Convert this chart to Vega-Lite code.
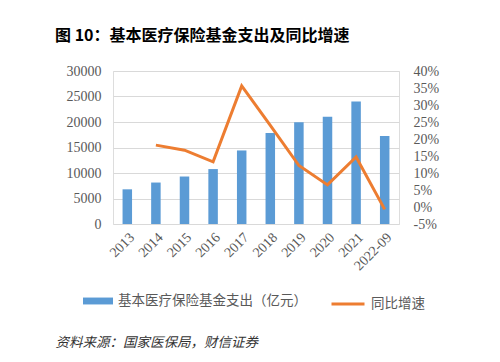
{
  "$schema": "https://vega.github.io/schema/vega-lite/v6.json",
  "width": 286,
  "height": 153,
  "autosize": {"type": "none"},
  "padding": {"left": 113, "top": 71, "right": 101, "bottom": 138},
  "background": "white",
  "title": {
    "text": "图 10：基本医疗保险基金支出及同比增速",
    "anchor": "start",
    "frame": "group",
    "dx": -58,
    "offset": 20,
    "font": "Noto Sans CJK SC",
    "fontSize": 16,
    "fontWeight": "bold",
    "color": "#000000"
  },
  "data": {
    "values": [
      {"year": "2013", "expense": 6800, "growth": null},
      {"year": "2014", "expense": 8130, "growth": 18.2},
      {"year": "2015", "expense": 9310, "growth": 16.7},
      {"year": "2016", "expense": 10770, "growth": 13.3},
      {"year": "2017", "expense": 14420, "growth": 35.6},
      {"year": "2018", "expense": 17820, "growth": 24.0},
      {"year": "2019", "expense": 19950, "growth": 12.2},
      {"year": "2020", "expense": 21030, "growth": 6.5},
      {"year": "2021", "expense": 24040, "growth": 14.7},
      {"year": "2022-09", "expense": 17250, "growth": -0.7}
    ]
  },
  "encoding": {
    "x": {
      "field": "year",
      "type": "ordinal",
      "sort": null,
      "axis": {
        "labelAngle": -45,
        "domain": false,
        "ticks": false,
        "labelPadding": 6,
        "labelFont": "Liberation Serif",
        "labelFontSize": 14,
        "labelColor": "#595959",
        "title": "资料来源：国家医保局，财信证券",
        "titleFont": "Noto Sans CJK SC",
        "titleFontSize": 13.5,
        "titleFontStyle": "italic",
        "titleFontWeight": "normal",
        "titleColor": "#333333",
        "titleAnchor": "start",
        "titleAlign": "left",
        "titleBaseline": "middle",
        "titleX": -58,
        "titleY": 118
      }
    }
  },
  "layer": [
    {
      "mark": {"type": "bar", "size": 9.5},
      "encoding": {
        "y": {
          "field": "expense",
          "type": "quantitative",
          "scale": {"domain": [0, 30000]},
          "axis": {
            "values": [0, 5000, 10000, 15000, 20000, 25000, 30000],
            "grid": true,
            "gridColor": "#d9d9d9",
            "domain": false,
            "ticks": false,
            "labelFont": "Liberation Serif",
            "labelFontSize": 14,
            "labelColor": "#595959",
            "labelPadding": 12,
            "format": "d",
            "title": null
          }
        },
        "color": {
          "datum": "基本医疗保险基金支出（亿元）",
          "scale": {"range": ["#5B9BD5"]},
          "legend": {
            "orient": "none",
            "legendX": -30,
            "legendY": 215,
            "title": null,
            "symbolType": "M-1,-0.23H1V0.23H-1Z",
            "symbolSize": 900,
            "symbolStrokeWidth": 0,
            "labelFont": "Noto Sans CJK SC",
            "labelFontSize": 13.5,
            "labelColor": "#595959",
            "labelOffset": 5,
            "labelLimit": 400
          }
        }
      }
    },
    {
      "mark": {"type": "line", "strokeWidth": 3},
      "encoding": {
        "y": {
          "field": "growth",
          "type": "quantitative",
          "scale": {"domain": [-5, 40]},
          "axis": {
            "orient": "right",
            "values": [-5, 0, 5, 10, 15, 20, 25, 30, 35, 40],
            "labelExpr": "datum.value + '%'",
            "grid": false,
            "domain": false,
            "ticks": false,
            "labelFont": "Liberation Serif",
            "labelFontSize": 14,
            "labelColor": "#595959",
            "labelPadding": 14,
            "title": null
          }
        },
        "stroke": {
          "datum": "同比增速",
          "scale": {"range": ["#ED7D31"]},
          "legend": {
            "orient": "none",
            "legendX": 217,
            "legendY": 215,
            "title": null,
            "symbolType": "stroke",
            "symbolSize": 1089,
            "symbolStrokeWidth": 3,
            "labelFont": "Noto Sans CJK SC",
            "labelFontSize": 13.5,
            "labelColor": "#595959",
            "labelOffset": 5,
            "labelLimit": 400
          }
        }
      }
    }
  ],
  "resolve": {"scale": {"y": "independent"}}
}
